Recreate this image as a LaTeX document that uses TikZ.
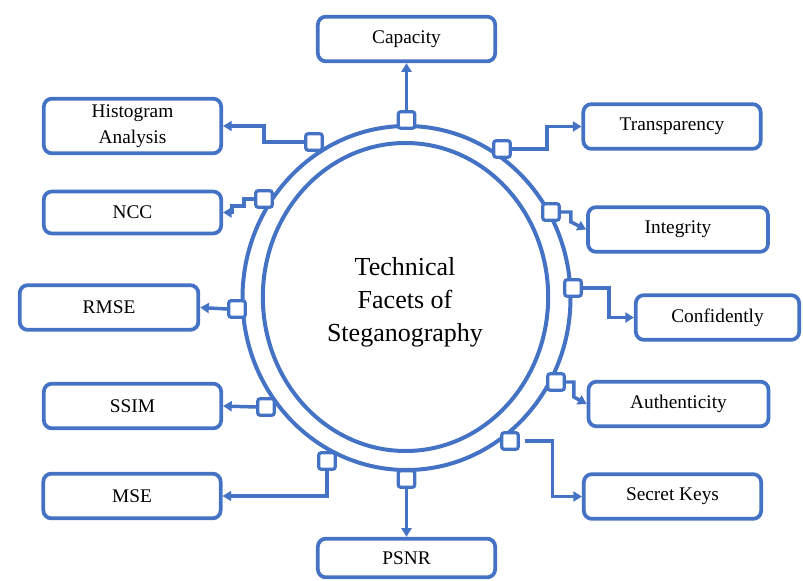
\documentclass[tikz,border=0pt]{standalone}
\usepackage{fontspec}
\setmainfont{Liberation Serif}
\usepackage{tikz}
\usetikzlibrary{arrows.meta}
\definecolor{FacetBlue}{RGB}{68,114,196}

\begin{document}
\begin{tikzpicture}[
  x=0.75pt, y=-0.75pt,
  box/.style={draw=FacetBlue, rounded corners=6pt, line width=2.8pt, fill=white, minimum width=133pt, minimum height=33.5pt, font=\fontsize{14.5}{19.5}\selectfont, align=center},
  port/.style={draw=FacetBlue, rounded corners=2pt, line width=2.4pt, fill=white, minimum size=12.5pt, inner sep=0pt},
  ring/.style={draw=FacetBlue, line width=3pt},
  line/.style={draw=FacetBlue, line width=2.6pt, -{Triangle[length=6.5pt,width=7.5pt]}}
]
\useasboundingbox (0,0) rectangle (803,581);

\draw[ring] (406.5,298) ellipse [x radius=123pt, y radius=129pt];
\draw[ring] (405.5,297) ellipse [x radius=107pt, y radius=115.5pt];
\node[font=\fontsize{19.5}{24.75}\selectfont, align=center] (title) at (405,302) {Technical\\Facets of\\Steganography};

\node[box] (cap) at (406.5,39) {Capacity};
\node[box] (tra) at (672,126.5) {Transparency};
\node[box, minimum width=135pt] (int) at (678,229.5) {Integrity};
\node[box, minimum width=122.5pt] (con) at (717.5,317.5) {Confidently};
\node[box, minimum width=135pt] (aut) at (678.5,404) {Authenticity};
\node[box] (sec) at (672.5,496.5) {Secret Keys};
\node[box, minimum height=29pt] (psn) at (406.5,558) {PSNR};
\node[box] (mse) at (132,496) {MSE};
\node[box] (ssi) at (132.5,406) {SSIM};
\node[box, minimum width=134pt] (rms) at (109,307.5) {RMSE};
\node[box, minimum height=31.5pt] (ncc) at (132.5,212.5) {NCC};
\node[box, minimum height=41pt] (his) at (132.5,126) {Histogram\\Analysis};

\node[port] (pcap) at (406.5,120) {};
\node[port] (ptra) at (502,149) {};
\node[port] (pint) at (551,212) {};
\node[port] (pcon) at (573,288) {};
\node[port] (paut) at (556,382) {};
\node[port] (psec) at (510,441) {};
\node[port] (ppsn) at (406.5,479) {};
\node[port] (pmse) at (327,461) {};
\node[port] (pssi) at (266,407) {};
\node[port] (prms) at (237,309) {};
\node[port] (pncc) at (264,199) {};
\node[port] (phis) at (314,142) {};

\draw[line] (pcap.north) -- (cap.south);
\draw[line] (ptra.east) -- ++(35,0) |- (tra.west);
\draw[line] (pint.east) -- ++(10,0) -- ++(0,10) -- (int.west);
\draw[line] (pcon.east) -- ++(26,0) |- (con.west);
\draw[line] (paut.east) -- ++(8,0) -- ++(0,15) -- (aut.west);
\draw[line] ([xshift=4pt]psec.east) -- ++(27,0) |- (sec.west);
\draw[line] (ppsn.south) -- (psn.north);
\draw[line] (pmse.south) |- (mse.east);
\draw[line] (pssi.west) -- (ssi.east);
\draw[line] (prms.west) -- (rms.east);
\draw[line] (pncc.west) -- ++(-10,0) -- ++(0,7) -- ++(-12,0) |- (ncc.east);
\draw[line] (phis.west) -- ++(-40,0) |- (his.east);
\end{tikzpicture}
\end{document}
